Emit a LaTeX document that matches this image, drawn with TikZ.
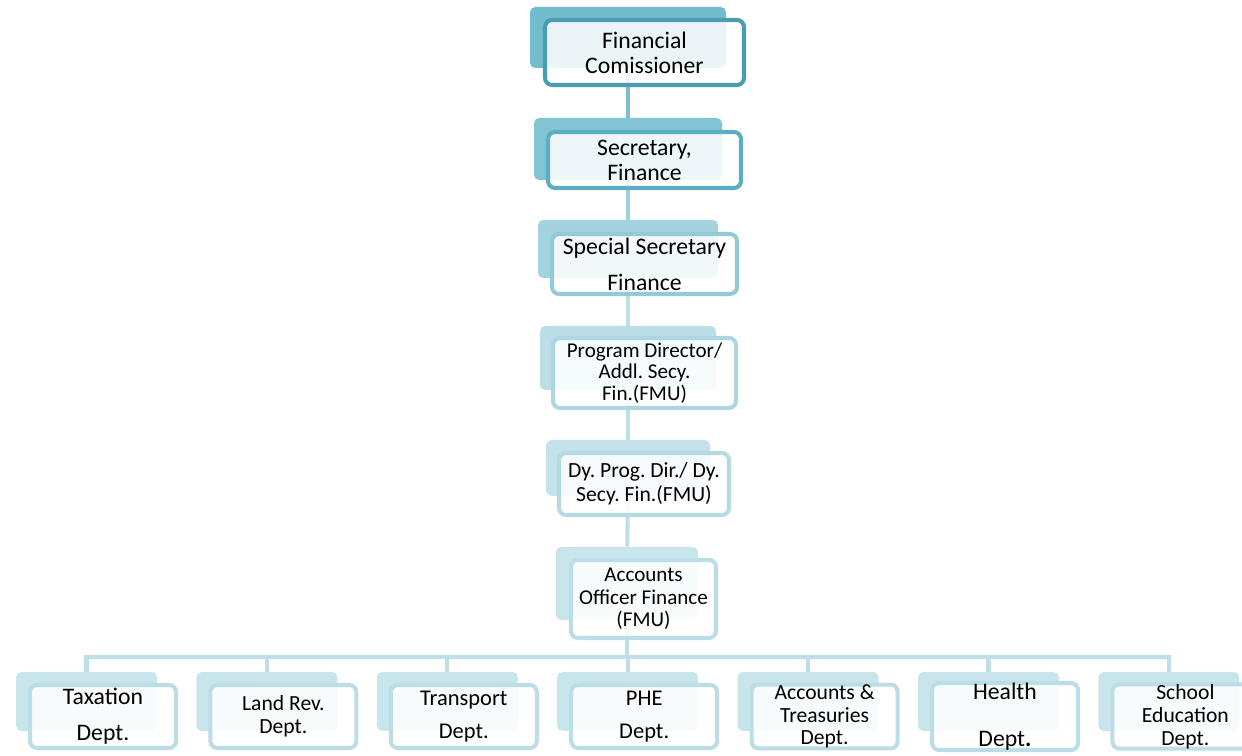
\documentclass[tikz,border=0pt]{standalone}
\usepackage{fontspec}
\setmainfont{Carlito}
\frenchspacing
\usetikzlibrary{positioning,backgrounds}

% frame and backing colours, darkest at the top
\definecolor{lineA}{HTML}{4A9CB2}
\definecolor{backA}{HTML}{73BCCD}
\definecolor{lineB}{HTML}{5EAEC3}
\definecolor{backB}{HTML}{82C4D4}
\definecolor{lineC}{HTML}{93CAD8}
\definecolor{backC}{HTML}{A4D3DF}
\definecolor{lineD}{HTML}{ADD6E1}
\definecolor{backD}{HTML}{BCDEE7}
\definecolor{lineE}{HTML}{B5DAE4}
\definecolor{backE}{HTML}{C4E2EA}
\definecolor{lineF}{HTML}{BADDE6}
\definecolor{backF}{HTML}{C9E5EC}
% connector colours
\definecolor{linkA}{HTML}{7BBFD0}
\definecolor{linkB}{HTML}{9FD0DC}
\definecolor{linkC}{HTML}{BEDFE7}

\begin{document}
\begin{tikzpicture}[x=0.02cm, y=-0.02cm]
                  \useasboundingbox (0,0) rectangle (1242,756);

                  % Box styles: a plain filled card behind, a framed card in front
                  \tikzset{
                        backbox/.style={fill=#1, rounded corners=3pt, inner sep=0pt},
                        frontbox/.style={draw=#1, line width=2.3pt, fill=white, fill opacity=0.86,
                                    text opacity=1, rounded corners=4pt, align=center, inner sep=0pt},
                        boxsize/.style 2 args={minimum width=#1*0.02cm, minimum height=#2*0.02cm},
                        link/.style={draw=#1, line width=2.3pt},
                        bigtxt/.style={font=\fontsize{13.5}{14.2}\selectfont},
                        midtxt/.style={font=\fontsize{12.8}{13}\selectfont},
                        smalltxt/.style={font=\fontsize{12.3}{13}\selectfont}
                  };

                  % Chain of posts, top to bottom
                  \node[backbox=backA, boxsize={196}{61}] (fc_b) at (628,37.5) {};
                  \node[frontbox=lineA, boxsize={199}{65}, bigtxt] (fc) at (644.5,52.5) {Financial\\Comissioner};

                  \node[backbox=backB, boxsize={188}{62}] (sf_b) at (628,149) {};
                  \node[frontbox=lineB, boxsize={193}{56}, bigtxt] (sf) at (644.5,160) {Secretary,\\Finance};

                  \node[backbox=backC, boxsize={180}{58}] (ss_b) at (628,249) {};
                  \node[frontbox=lineC, boxsize={185}{60}, bigtxt] (ss) at (644.5,264) {Special Secretary\\[6.2pt]Finance};

                  \node[backbox=backD, boxsize={176}{64}] (pd_b) at (628,358) {};
                  \node[frontbox=lineD, boxsize={183}{70}, font=\fontsize{12}{12.2}\selectfont] (pd) at (644.5,373) {Program Director/\\Addl. Secy.\\Fin.(FMU)};

                  \node[backbox=backE, boxsize={164}{56}] (dp_b) at (628,468) {};
                  \node[frontbox=lineE, boxsize={170}{62}, font=\fontsize{12.3}{13.5}\selectfont] (dp) at (644,484) {Dy. Prog. Dir./ Dy.\\Secy. Fin.(FMU)};

                  \node[backbox=backF, boxsize={142}{73}] (ao_b) at (627,583.5) {};
                  \node[frontbox=lineF, boxsize={145}{78}, font=\fontsize{12}{12.8}\selectfont] (ao) at (643.5,599) {Accounts\\Officer Finance\\(FMU)};

                  % Row of departments
                  \coordinate (bus) at (0,657);
                  \foreach \name/\i/\fnt/\txt [evaluate=\i as \bx using {86.5+180.4*(\i-1)}] in {
                        tax/1/bigtxt/{Taxation\\[6.2pt]Dept.},
                        land/2/smalltxt/{Land Rev.\\Dept.},
                        trans/3/midtxt/{Transport\\[5.7pt]Dept.},
                        phe/4/midtxt/{PHE\\[5.7pt]Dept.},
                        acct/5/smalltxt/{Accounts \&\\Treasuries\\Dept.},
                        health/6/bigtxt/{Health\\[12.4pt]Dept\textbf{.}},
                        school/7/smalltxt/{School\\Education\\Dept.}} {
                        \node[backbox=backF, boxsize={141}{59}] (\name_b) at (\bx,701.5) {};
                        \node[frontbox=lineF, boxsize={146}{63}, \fnt] (\name) at (\bx+16.5,716.5) {\txt};
                  }

                  % Connectors run behind the cards
                  \begin{scope}[on background layer]
                        \draw[link=linkA] (fc_b) -- (sf_b);
                        \draw[link=linkB] (sf_b) -- (ss_b);
                        \draw[link=linkC] (ss_b) -- (pd_b);
                        \draw[link=linkC] (pd_b) -- (dp_b);
                        \draw[link=linkC] (dp_b) -- (ao_b);
                        \foreach \name in {tax,land,trans,phe,acct,health,school}
                              \draw[link=linkC] (ao_b.center) -- (ao_b |- bus) -| (\name_b.center);
                  \end{scope}
\end{tikzpicture}
\end{document}
